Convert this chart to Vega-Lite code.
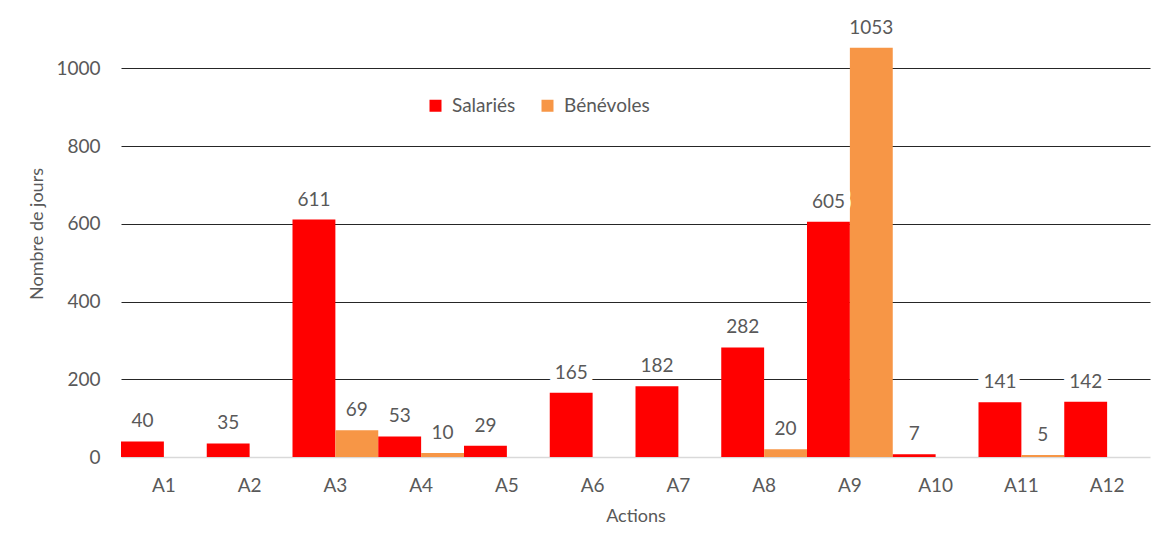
{
  "$schema": "https://vega.github.io/schema/vega-lite/v6.json",
  "autosize": "none",
  "width": 1029,
  "height": 447,
  "padding": {"left": 121, "top": 10, "right": 13, "bottom": 94},
  "background": "white",
  "config": {
    "font": "Lato",
    "view": {"stroke": null},
    "axis": {"labelColor": "#595959", "titleColor": "#595959", "labelFontSize": 19, "titleFontSize": 18, "titleFontWeight": "normal", "labelFont": "Lato", "titleFont": "Lato"}
  },
  "data": {
    "values": [
      {"action": "A1", "serie": "Salariés", "jours": 40},
      {"action": "A2", "serie": "Salariés", "jours": 35},
      {"action": "A3", "serie": "Salariés", "jours": 611},
      {"action": "A3", "serie": "Bénévoles", "jours": 69},
      {"action": "A4", "serie": "Salariés", "jours": 53},
      {"action": "A4", "serie": "Bénévoles", "jours": 10},
      {"action": "A5", "serie": "Salariés", "jours": 29},
      {"action": "A6", "serie": "Salariés", "jours": 165},
      {"action": "A7", "serie": "Salariés", "jours": 182},
      {"action": "A8", "serie": "Salariés", "jours": 282},
      {"action": "A8", "serie": "Bénévoles", "jours": 20},
      {"action": "A9", "serie": "Salariés", "jours": 605},
      {"action": "A9", "serie": "Bénévoles", "jours": 1053},
      {"action": "A10", "serie": "Salariés", "jours": 7},
      {"action": "A11", "serie": "Salariés", "jours": 141},
      {"action": "A11", "serie": "Bénévoles", "jours": 5},
      {"action": "A12", "serie": "Salariés", "jours": 142}
    ]
  },
  "encoding": {
    "x": {
      "field": "action", "type": "nominal",
      "sort": ["A1","A2","A3","A4","A5","A6","A7","A8","A9","A10","A11","A12"],
      "scale": {"paddingInner": 0, "paddingOuter": 0},
      "title": "Actions",
      "axis": {"labelAngle": 0, "ticks": false, "domainColor": "#d9d9d9", "domainWidth": 1.5, "labelPadding": 19, "titlePadding": 12, "grid": false}
    },
    "xOffset": {"field": "serie", "type": "nominal", "scale": {"domain": ["Salariés", "Bénévoles"], "paddingInner": 0, "paddingOuter": 0}},
    "y": {
      "field": "jours", "type": "quantitative",
      "scale": {"domain": [0, 1150], "nice": false},
      "title": "Nombre de jours",
      "axis": {"values": [0, 200, 400, 600, 800, 1000], "format": "d", "domain": false, "ticks": false, "labelPadding": 21, "titlePadding": 9,
        "gridColor": {"condition": {"test": "datum.value === 0", "value": "transparent"}, "value": "#262626"}, "gridWidth": 1.2}
    }
  },
  "layer": [
    {
      "mark": {"type": "bar"},
      "encoding": {
        "color": {
          "field": "serie", "type": "nominal",
          "scale": {"domain": ["Salariés", "Bénévoles"], "range": ["#FF0000", "#F79646"]},
          "legend": {"title": null, "orient": "none", "direction": "horizontal", "legendX": 305, "legendY": 86,
            "symbolType": "square", "symbolSize": 144, "symbolStrokeWidth": 0, "labelFontSize": 19, "labelColor": "#595959", "labelFont": "Lato", "labelOffset": 7, "columnPadding": 22}
        }
      }
    },
    {
      "mark": {"type": "text", "baseline": "alphabetic", "dy": -14, "fontSize": 19, "font": "Lato", "fill": "white", "stroke": "white", "strokeWidth": 14, "strokeJoin": "round"},
      "encoding": {"text": {"field": "jours", "type": "quantitative"}}
    },
    {
      "mark": {"type": "text", "baseline": "alphabetic", "dy": -14, "fontSize": 19, "font": "Lato", "color": "#595959"},
      "encoding": {"text": {"field": "jours", "type": "quantitative"}}
    }
  ]
}
